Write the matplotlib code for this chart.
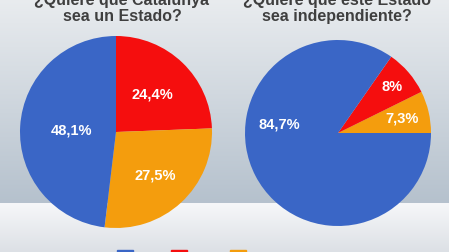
import numpy as np
import matplotlib.pyplot as plt
from matplotlib.patches import Patch

# data
titles = ["¿Quiere que Catalunya\nsea un Estado?",
          "¿Quiere que este Estado\nsea independiente?"]
categories = ["Sí", "No", "NS/NC"]
pie1_values = [48.1, 24.4, 27.5]   # Sí, No, NS/NC
pie2_values = [84.7, 8.0, 7.3]

colors = {"Sí": "#3a66c6", "No": "#f50e0e", "NS/NC": "#f49d0d"}

W, H = 449, 253
fig = plt.figure(figsize=(W / 100, H / 100), dpi=100)

# background: two gradient panels
bg = fig.add_axes([0, 0, 1, 1], zorder=-10)
bg.axis("off")
top = np.array([0xe9, 0xec, 0xef]) / 255
mid = np.array([0xb5, 0xc1, 0xcd]) / 255
low1 = np.array([0xf6, 0xf7, 0xf9]) / 255
low2 = np.array([0xdc, 0xe0, 0xe5]) / 255
img = np.zeros((H, 2, 3))
split = 204
for i in range(H):
    if i < split:
        t = i / split
        img[i, :] = top * (1 - t) + mid * t
    else:
        t = (i - split) / (H - split)
        img[i, :] = low1 * (1 - t) + low2 * t
bg.imshow(img, aspect="auto", extent=[0, 1, 0, 1], interpolation="bilinear")


def fmt(v):
    return f"{v:g}".replace(".", ",") + "%"


def draw_pie(cx, cy, r, values, order, startangle, counterclock, dists, angle_fix):
    ax = fig.add_axes([(cx - r) / W, (H - cy - r) / H, 2 * r / W, 2 * r / H])
    vals = [values[categories.index(c)] for c in order]
    wedges, _ = ax.pie(vals, colors=[colors[c] for c in order],
                       startangle=startangle, counterclock=counterclock,
                       wedgeprops=dict(linewidth=0), radius=1)
    for w, c, v in zip(wedges, order, vals):
        a = angle_fix.get(c, (w.theta1 + w.theta2) / 2)
        d = dists[c]
        ax.text(d * np.cos(np.radians(a)), d * np.sin(np.radians(a)), fmt(v),
                ha="center", va="center", color="white", fontsize=10.5,
                fontweight="bold", family="Liberation Sans")
    ax.set_xlim(-1, 1)
    ax.set_ylim(-1, 1)


draw_pie(116, 133, 96, pie1_values, ["No", "NS/NC", "Sí"], 90, False,
         {"Sí": 0.46, "No": 0.55, "NS/NC": 0.6}, {})
draw_pie(338, 134, 93, pie2_values, ["NS/NC", "No", "Sí"], 0, True,
         {"Sí": 0.64, "No": 0.77, "NS/NC": 0.71}, {"Sí": 171})

for x, t in zip([122, 337], titles):
    fig.text(x / W, (H - 24) / H, t, ha="center", va="bottom", fontsize=11.5,
             fontweight="bold", color="#3f3f3f", family="Liberation Sans",
             linespacing=1.05)

handles = [Patch(color=colors[c]) for c in categories]
fig.legend(handles, categories, loc="upper left", ncol=3,
           bbox_to_anchor=(117 / W, 2 / H), frameon=False, fontsize=8,
           handlelength=1.4, handleheight=1.4, columnspacing=2.05,
           handletextpad=0.5, borderaxespad=0, borderpad=0)

fig.savefig("out.png", dpi=100)
